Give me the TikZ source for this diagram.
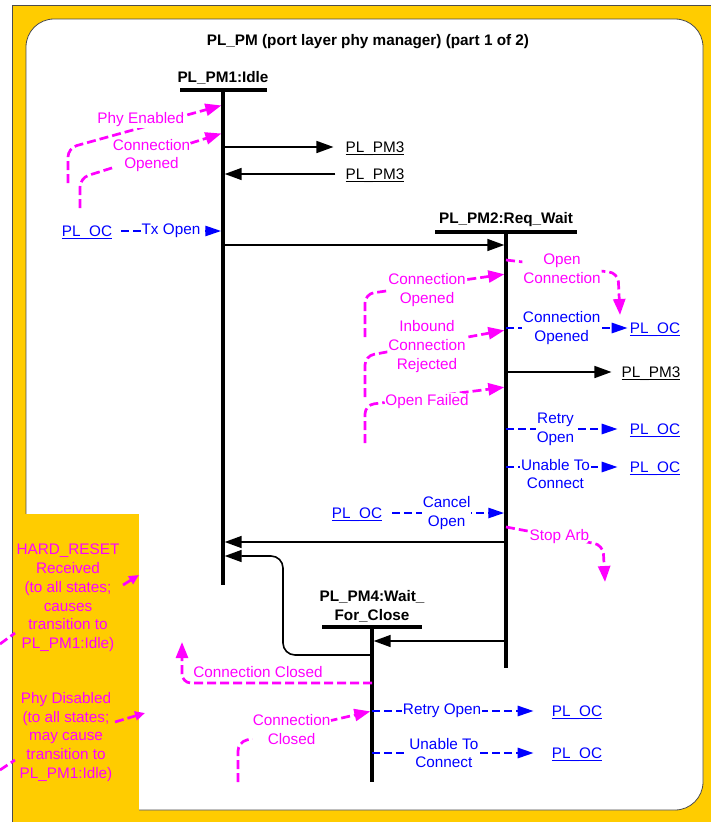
\documentclass[tikz,border=0pt]{standalone}
\usepackage{fontspec}
\setmainfont{Liberation Sans}
\usepackage{tikz}
\usetikzlibrary{arrows.meta, positioning}

\definecolor{pmorange}{HTML}{FFCC00}
\definecolor{pmmagenta}{HTML}{FF00FF}
\definecolor{pmblue}{HTML}{0000FF}
\newcommand{\lnk}[1]{\underline{\smash{#1}}}

\begin{document}
\begin{tikzpicture}[
  x=1pt, y=-1pt,
  every node/.style={font=\fontsize{15.3}{18.8}\selectfont},
  title/.style={font=\fontsize{15.3}{18.8}\selectfont\bfseries},
  statename/.style={font=\fontsize{15.3}{18.8}\selectfont\bfseries, align=center},
  bar/.style={line width=3.5pt},
  lifeline/.style={line width=3.3pt},
  pmlink/.style={inner sep=0pt, text height=11pt, text depth=0pt},
  oclink/.style={inner sep=0pt, text height=11pt, text depth=0pt, text=pmblue},
  msg/.style={line width=1.6pt, -{Triangle[length=17pt,width=12pt]}},
  sig/.style={pmblue, line width=2.6pt, dash pattern=on 8pt off 4pt, -{Triangle[length=16pt,width=10pt]}},
  evt/.style={pmmagenta, line width=2.7pt, dash pattern=on 9pt off 4pt, rounded corners=9pt, -{Triangle[length=16pt,width=12pt]}},
  shortevt/.style={evt, -{Triangle[length=10pt,width=9pt]}},
  siglbl/.style={text=pmblue, fill=white, inner sep=1pt, align=center},
  evtlbl/.style={text=pmmagenta, fill=white, inner sep=1pt, align=center},
  note/.style={text=pmmagenta, align=center}
]
% Background
\useasboundingbox (0,0) rectangle (711,822);
\fill[pmorange] (12,5) rectangle (711,822);
\draw[gray!60!black, line width=1pt] (12,822) -- (12,5) -- (711,5);
\draw[gray!60!black, fill=white, line width=0.8pt, rounded corners=28pt] (26,19) rectangle (703,810);
\fill[pmorange] (12.6,514) rectangle (139,822);

% Title
\node[title] (ttl) at (368,42) {PL\_PM (port layer phy manager) (part 1 of 2)};

% State 1: Idle
\node[statename] (idle) at (223,78) {PL\_PM1:Idle};
\coordinate (pm1) at (223,90);
\draw[bar] (180,90) -- (267,90);
\draw[lifeline] (pm1) -- (223,585);

% State 2: Req_Wait
\node[statename] (reqwait) at (506,220) {PL\_PM2:Req\_Wait};
\coordinate (pm2) at (506,232);
\draw[bar] (435,232) -- (577,232);
\draw[lifeline] (pm2) -- (506,668);

% State 4: Wait_For_Close
\node[statename] (waitclose) at (372,606) {PL\_PM4:Wait\_\\For\_Close};
\coordinate (pm4) at (372,627);
\draw[bar] (322,627) -- (422,627);
\draw[lifeline] (pm4) -- (372,782);

% Links
\node[pmlink] (pm3a) at (375,147) {\lnk{PL\_PM3}};
\node[pmlink] (pm3b) at (375,174) {\lnk{PL\_PM3}};
\node[pmlink] (pm3c) at (651,372) {\lnk{PL\_PM3}};
\node[oclink] (oc0) at (87,231) {\lnk{PL\_OC}};
\node[oclink] (oc1) at (655,328) {\lnk{PL\_OC}};
\node[oclink] (oc2) at (655,429) {\lnk{PL\_OC}};
\node[oclink] (oc3) at (655,467) {\lnk{PL\_OC}};
\node[oclink] (oc4) at (357,513) {\lnk{PL\_OC}};
\node[oclink] (oc5) at (577,711) {\lnk{PL\_OC}};
\node[oclink] (oc6) at (577,753) {\lnk{PL\_OC}};

% Loose ends
\coordinate (phyen) at (68,183);
\coordinate (connop) at (80,208);
\coordinate (openconn) at (620,315);
\coordinate (rwopen) at (365,337);
\coordinate (rwrej) at (365,397);
\coordinate (rwfail) at (365,443);
\coordinate (stoparb) at (605,582);
\coordinate (closedout) at (182,642);
\coordinate (pm4closed) at (238,782);

% Arrows into Idle
\draw[evt, shorten >=1.7pt] (phyen) -- (68,148) -- (pm1 |- 0,105) node[evtlbl, pos=.47, yshift=8pt] {Phy Enabled};
\draw[evt, shorten >=1.7pt] (connop) -- (80,178) -- (pm1 |- 0,133) node[evtlbl, midway] {Connection\\Opened};
\draw[msg, shorten >=12pt] (pm1 |- pm3a) -- (pm3a.west);
\draw[msg, shorten <=10pt, shorten >=1.7pt] (pm3b.west) -- (pm1 |- pm3b);
\draw[sig, shorten <=9pt, shorten >=1.7pt] (oc0.east) -- (pm1 |- oc0) node[siglbl, pos=.53] {Tx Open};
\draw[msg, shorten >=1.7pt] (pm1 |- 0,245) -- (pm2 |- 0,245);

% Arrows at Req_Wait
\draw[evt] (pm2 |- 0,260) -- node[evtlbl, yshift=-2pt] {Open\\Connection} (618,273) -- (openconn);
\draw[evt, shorten >=1.7pt] (rwopen) -- (365,294) -- (pm2 |- 0,274) node[evtlbl, pos=.44, yshift=-5pt] {Connection\\Opened};
\draw[evt, shorten >=1.7pt] (rwrej) -- (365,356) -- (pm2 |- 0,330) node[evtlbl, pos=.44, yshift=-2pt] {Inbound\\Connection\\Rejected};
\draw[evt, shorten >=1.7pt] (rwfail) -- (365,405) -- (pm2 |- 0,387) node[evtlbl, pos=.44, yshift=-4pt] {Open Failed};
\draw[sig, shorten >=2pt] (pm2 |- oc1) -- (oc1.west) node[siglbl, pos=.45] {Connection\\Opened};
\draw[msg, shorten >=10pt] (pm2 |- pm3c) -- (pm3c.west);
\draw[sig, shorten >=12pt] (pm2 |- oc2) -- (oc2.west) node[siglbl, pos=.4] {Retry\\Open};
\draw[sig, shorten >=12pt] (pm2 |- oc3) -- (oc3.west) node[siglbl, pos=.4, yshift=-7pt] {Unable To\\Connect};
\draw[sig, shorten <=10pt, shorten >=1.7pt] (oc4.east) -- (pm2 |- oc4) node[siglbl, pos=.52] {Cancel\\Open};
\draw[evt] (pm2 |- 0,527) -- node[evtlbl, pos=.55] {Stop Arb} (603,545) -- (stoparb);
\draw[msg, shorten >=1.7pt] (pm2 |- 0,542) -- (pm1 |- 0,542);
\draw[msg, shorten >=1.7pt] (pm2 |- 0,641) -- (pm4 |- 0,641);

% Arrows at Wait_For_Close
\draw[msg, rounded corners=12pt, shorten >=1.7pt] (pm4 |- 0,655) -- (283,655) -- (283,556) -- (pm1 |- 0,556);
\draw[evt] (pm4 |- 0,683) -- node[pos=.6, above=1pt, text=pmmagenta] {Connection Closed} (182,683) -- (closedout);
\draw[evt, shorten >=1.7pt] (pm4closed) -- (238,742) -- (pm4 |- 0,711) node[evtlbl, pos=.4] {Connection\\Closed};
\draw[sig, shorten >=18pt] (pm4 |- oc5) -- (oc5.west) node[siglbl, pos=.39] {Retry Open};
\draw[sig, shorten >=18pt] (pm4 |- oc6) -- (oc6.west) node[siglbl, pos=.4] {Unable To\\Connect};

% Notes for all states
\node[note] (hardreset) at (68,598) {HARD\_RESET\\Received\\(to all states;\\causes\\transition to\\PL\_PM1:Idle)};
\node[note] (phydis) at (66,737) {Phy Disabled\\(to all states;\\may cause\\transition to\\PL\_PM1:Idle)};
\coordinate (hrfrom) at (123,585);
\coordinate (hrto) at (139,575);
\coordinate (pdfrom) at (115,722);
\coordinate (pdto) at (145,713);
\coordinate (hrtail) at (0,644);
\coordinate (hrtailend) at (15,633);
\coordinate (pdtail) at (0,770);
\coordinate (pdtailend) at (15,760);
\draw[shortevt] (hrfrom) -- (hrto);
\draw[shortevt] (pdfrom) -- (pdto);
\draw[evt, -] (hrtail) -- (hrtailend);
\draw[evt, -] (pdtail) -- (pdtailend);
\end{tikzpicture}
\end{document}
